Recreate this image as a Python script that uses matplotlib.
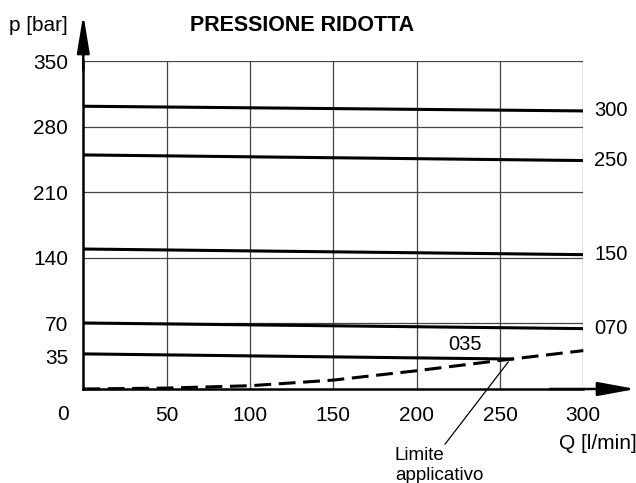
import matplotlib
matplotlib.use("Agg")
import matplotlib.pyplot as plt

plt.rcParams['font.family'] = ['Liberation Sans', 'DejaVu Sans']

# Data
q_line = [0, 300]
p300 = [302, 297]
p250 = [250, 244]
p150 = [149.5, 143.5]
p070 = [70.5, 64.5]
q035 = [0, 258]
p035 = [37.5, 32]
curve_labels = ["300", "250", "150", "070"]

q_limit = [0, 50, 100, 150, 200, 250, 300]
p_limit = [0, 1, 3.5, 9.5, 19.5, 30.5, 41]

x_ticks = [50, 100, 150, 200, 250, 300]
y_ticks = [35, 70, 140, 210, 280, 350]
y_grid = [70, 140, 210, 280, 350]

W, H = 636, 483
fig = plt.figure(figsize=(W / 100, H / 100), dpi=100)
x0, x1 = 83.3, 583.3
y0, y1 = 389.0, 61.3
ax = fig.add_axes([x0 / W, (H - y0) / H, (x1 - x0) / W, (y0 - y1) / H])
ax.set_xlim(0, 300)
ax.set_ylim(0, 350)

grid_c = '#444444'
for x in x_ticks:
    ax.axvline(x, color=grid_c, lw=0.9, zorder=1)
for y in y_grid:
    ax.axhline(y, color=grid_c, lw=0.9, zorder=1)

for s in ['top', 'right']:
    ax.spines[s].set_visible(False)
ax.spines['left'].set_linewidth(1.8)
ax.spines['bottom'].set_linewidth(1.8)

fs = 15
ax.set_xticks(x_ticks)
ax.set_xticklabels([str(v) for v in x_ticks], fontsize=fs)
ax.set_yticks(y_ticks)
ax.set_yticklabels([str(v) for v in y_ticks], fontsize=fs)
ax.tick_params(axis='both', length=0)
ax.tick_params(axis='x', pad=12.5)
ax.tick_params(axis='y', pad=11)

lw = 2.2
for p, lab in zip([p300, p250, p150, p070], curve_labels):
    ax.plot(q_line, p, color='black', lw=lw, solid_capstyle='butt', zorder=3)
    ax.annotate(lab, xy=(q_line[-1], p[-1]), xytext=(8, 0), textcoords='offset points',
                fontsize=14.5, va='center', ha='left', annotation_clip=False)
ax.plot(q035, p035, color='black', lw=lw, solid_capstyle='butt', zorder=3)
ax.text(229, 47, "035", fontsize=14.5, ha='center', va='center')

ax.plot(q_limit, p_limit, color='black', lw=lw, dashes=(5.5, 2.5), zorder=4, clip_on=False)

# Axis arrows
ax.annotate('', xy=(0, 400), xytext=(0, 340), xycoords='data',
            arrowprops=dict(arrowstyle='-|>,head_length=2.3,head_width=0.38', lw=1.8,
                            color='black', mutation_scale=10, shrinkA=0, shrinkB=0),
            annotation_clip=False)
ax.annotate('', xy=(331.5, 0), xytext=(280, 0), xycoords='data',
            arrowprops=dict(arrowstyle='-|>,head_length=2.3,head_width=0.42', lw=1.8,
                            color='black', mutation_scale=10, shrinkA=0, shrinkB=0),
            annotation_clip=False)

# Leader line
ax.annotate('', xy=(255, 29), xytext=(217, -59),
            arrowprops=dict(arrowstyle='-', lw=0.9, color='black', shrinkA=0, shrinkB=0),
            annotation_clip=False)
ax.text(187, -82, "Limite\napplicativo", fontsize=13.5, ha='left', va='center',
        linespacing=1.2, clip_on=False)

ax.text(-12, -27, "0", fontsize=fs, ha='center', va='center', clip_on=False)
ax.text(-9.5, 388, "p [bar]", fontsize=fs, ha='right', va='center', clip_on=False)
ax.text(309, -58, "Q [l/min]", fontsize=fs, ha='center', va='center', clip_on=False)
ax.text(131.5, 388, "PRESSIONE RIDOTTA", fontsize=15.5, fontweight='bold',
        ha='center', va='center', clip_on=False)

fig.savefig("out.png", dpi=100)
